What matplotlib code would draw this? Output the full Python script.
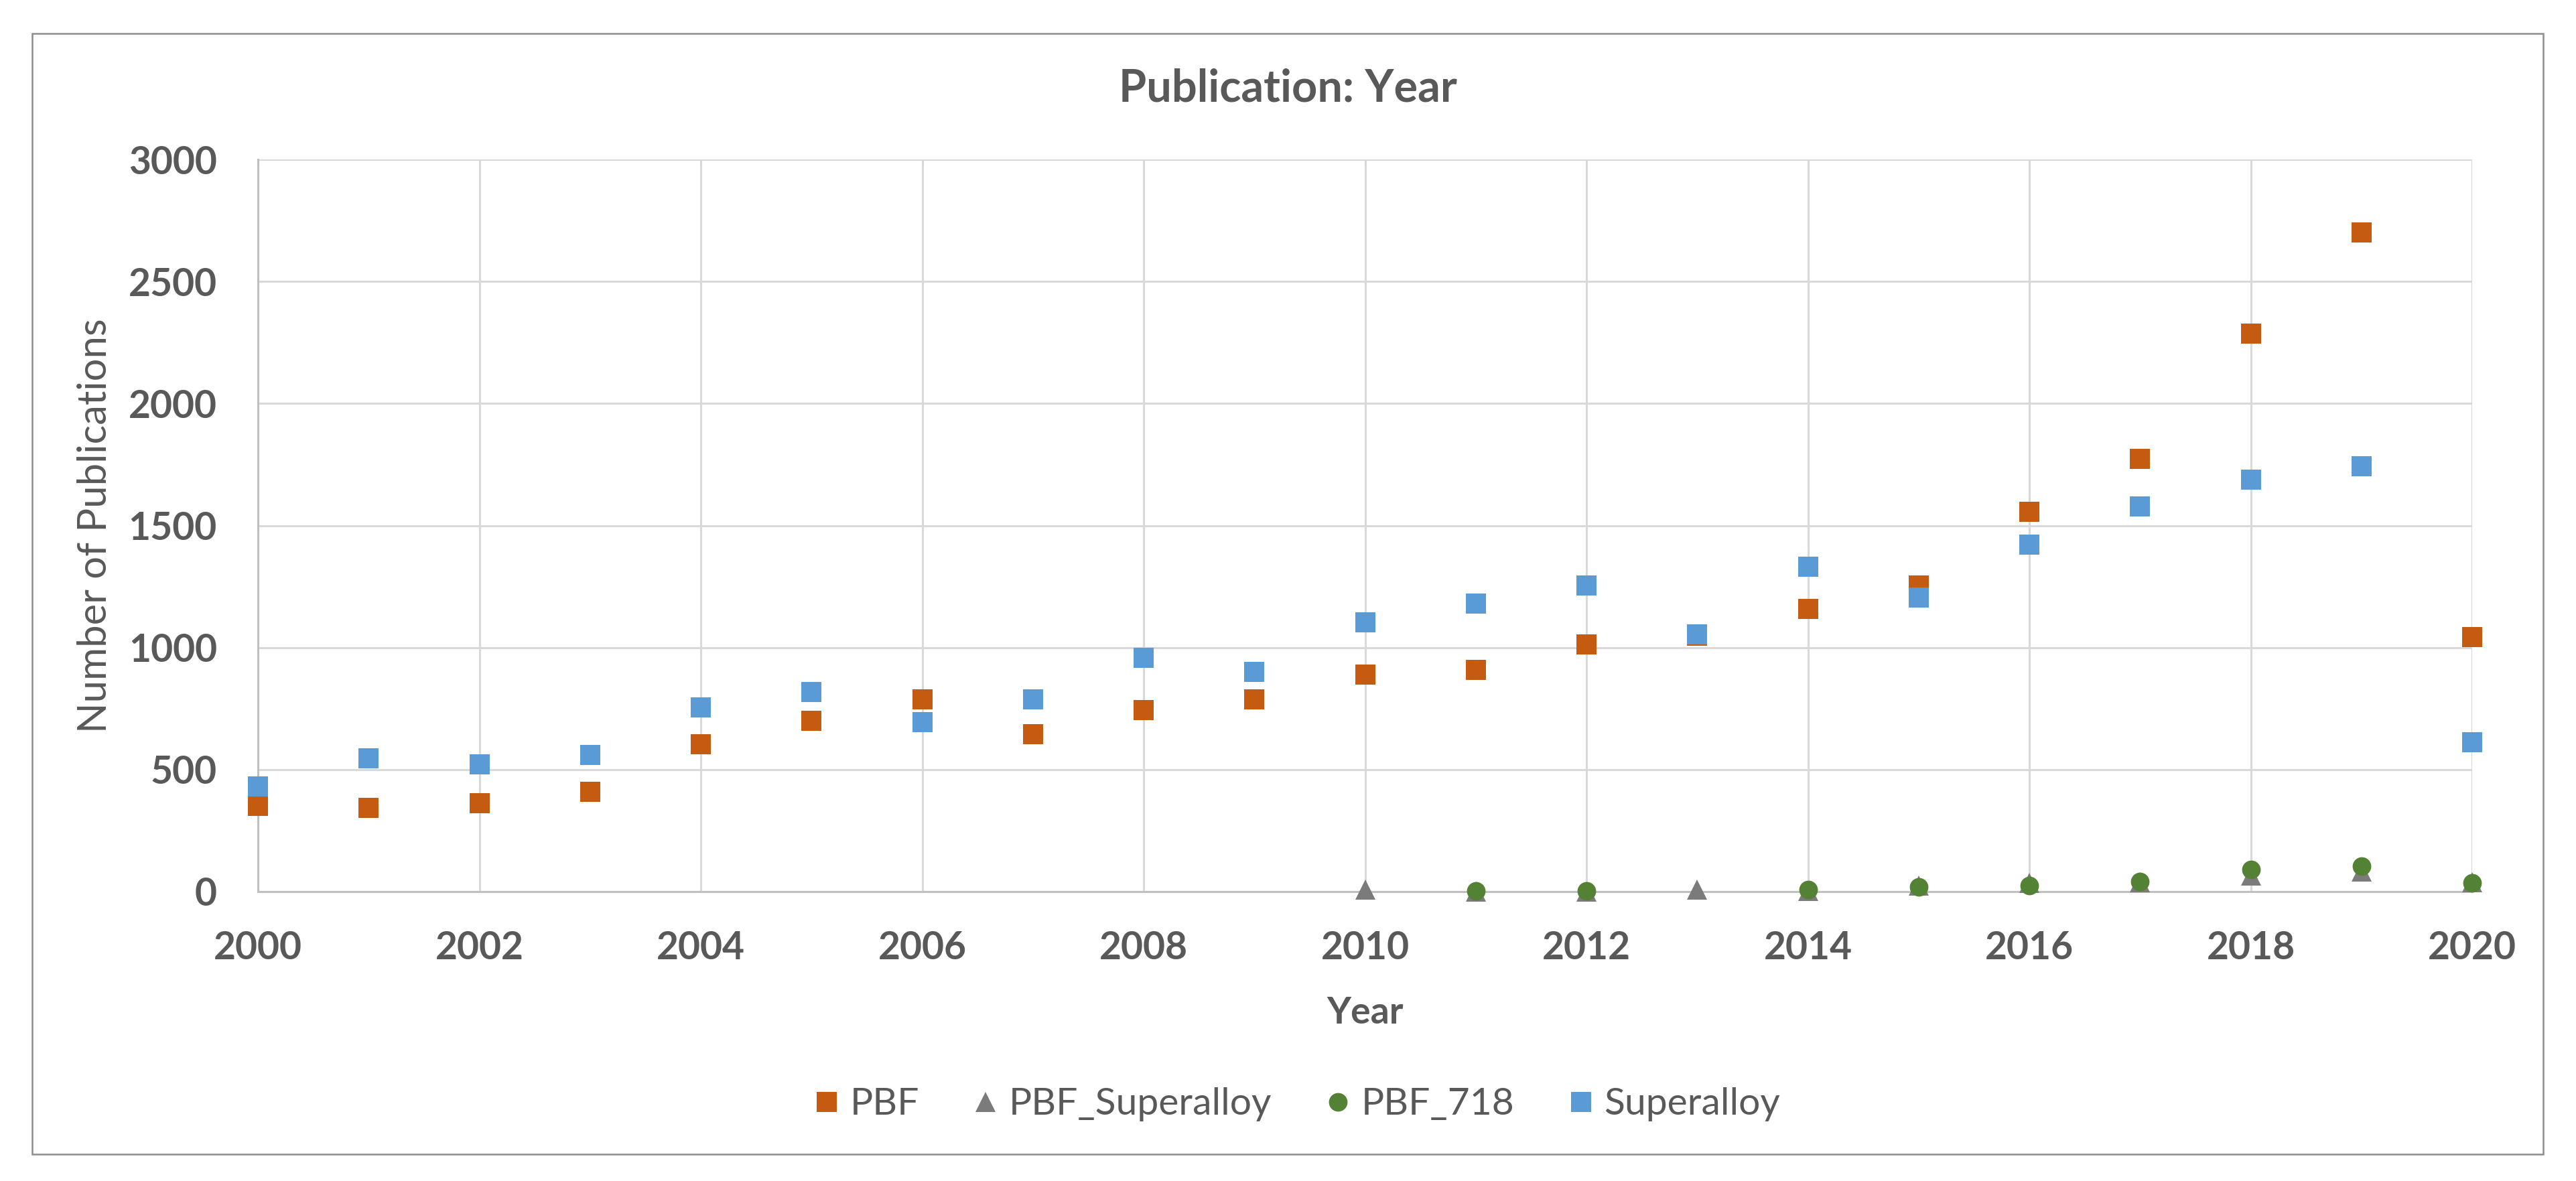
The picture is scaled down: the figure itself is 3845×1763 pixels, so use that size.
import numpy as np
import matplotlib
matplotlib.use("Agg")
import matplotlib.pyplot as plt
from matplotlib.patches import Rectangle

# ---------------- data ----------------
years = list(range(2000, 2021))
pbf = [351, 344, 361, 410, 604, 700, 787, 646, 744, 787, 888, 909, 1012, 1048,
       1157, 1254, 1557, 1773, 2285, 2700, 1044]
superalloy = [432, 545, 522, 561, 754, 819, 695, 787, 958, 900, 1104, 1179, 1255,
              1055, 1330, 1206, 1423, 1579, 1687, 1742, 612]
years_sub = list(range(2010, 2021))
pbf_superalloy = [7, 1, 1, 7, 3, 24, 35, 39, 67, 82, 38]
pbf_718 = [np.nan, 2, 3, np.nan, 9, 20, 26, 40, 90, 105, 36]

x_ticks = list(range(2000, 2021, 2))
y_ticks = list(range(0, 3001, 500))

title = "Publication: Year"
x_title = "Year"
y_title = "Number of Publications"
series_names = ["PBF", "PBF_Superalloy", "PBF_718", "Superalloy"]

# ---------------- style ----------------
plt.rcParams['font.family'] = ['Lato', 'DejaVu Sans']
TXT = '#595959'
C_PBF = '#C55A11'
C_SUPSUB = '#7B7B7B'
C_718 = '#548235'
C_SUP = '#5B9BD5'

W, H, DPI = 3845, 1763, 100
fig = plt.figure(figsize=(W / DPI, H / DPI), dpi=DPI)
fig.patch.set_facecolor('white')

# outer chart border
fig.add_artist(Rectangle((48 / W, 1 - 1723 / H), (3796 - 48) / W, (1723 - 50) / H,
                         transform=fig.transFigure, fill=False,
                         edgecolor='#8C8C8C', linewidth=1.8))

ax = fig.add_axes([385 / W, 1 - 1331 / H, (3690 - 385) / W, (1331 - 238) / H])

ms = 21
ax.plot(years, pbf, linestyle='none', marker='s', markersize=ms, color=C_PBF,
        markeredgewidth=0, clip_on=False, label=series_names[0], zorder=3)
ax.plot(years_sub, pbf_superalloy, linestyle='none', marker='^', markersize=ms,
        color=C_SUPSUB, markeredgewidth=0, clip_on=False, label=series_names[1], zorder=4)
ax.plot(years_sub, pbf_718, linestyle='none', marker='o', markersize=20, color=C_718,
        markeredgewidth=0, clip_on=False, label=series_names[2], zorder=5)
ax.plot(years, superalloy, linestyle='none', marker='s', markersize=ms, color=C_SUP,
        markeredgewidth=0, clip_on=False, label=series_names[3], zorder=6)

ax.set_xlim(2000, 2020)
ax.set_ylim(0, 3000)
ax.set_xticks(x_ticks)
ax.set_yticks(y_ticks)
ax.grid(True, color='#D9D9D9', linewidth=2.2)
ax.set_axisbelow(True)
for s in ['top', 'right']:
    ax.spines[s].set_visible(False)
for s in ['left', 'bottom']:
    ax.spines[s].set_color('#C0C0C0')
    ax.spines[s].set_linewidth(2.2)
    ax.spines[s].set_zorder(2)

ax.tick_params(axis='both', length=0, labelsize=41, labelcolor=TXT)
ax.tick_params(axis='y', pad=44)
ax.tick_params(axis='x', pad=42)
for lab in ax.get_xticklabels() + ax.get_yticklabels():
    lab.set_fontweight('bold')

ax.set_xlabel(x_title, fontsize=40, fontweight='bold', color=TXT, va='baseline')
ax.xaxis.set_label_coords(0.5, (1331 - 1528) / (1331 - 238))
ax.set_ylabel(y_title, fontsize=43, fontweight='normal', color=TXT, va='center')
ax.yaxis.set_label_coords((142 - 385) / (3690 - 385), 0.5)

fig.text(0.5, 1 - 151.7 / H, title, ha='center', va='baseline', fontsize=48,
         fontweight='bold', color=TXT)

leg = fig.legend(loc='center', bbox_to_anchor=(1937 / W, 1 - 1649 / H), ncol=4,
                 frameon=False, fontsize=41, handlelength=0.6, handletextpad=0.3,
                 columnspacing=1.45, borderpad=0)
for t in leg.get_texts():
    t.set_color(TXT)

fig.savefig('out.png', dpi=DPI, facecolor='white')
